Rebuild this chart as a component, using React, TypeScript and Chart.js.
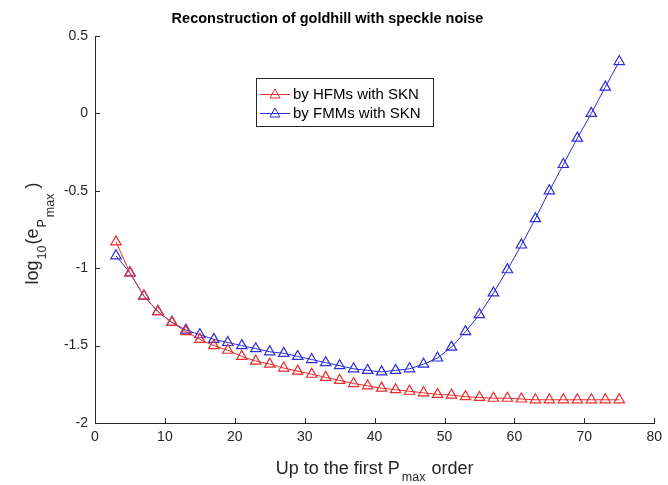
import React, { useEffect, useRef } from "react";
import { Chart, registerables } from "chart.js";

Chart.register(...registerables);

const TITLE = "Reconstruction of goldhill with speckle noise";
const orders = [3, 5, 7, 9, 11, 13, 15, 17, 19, 21, 23, 25, 27, 29, 31, 33, 35, 37, 39, 41, 43, 45, 47, 49, 51, 53, 55, 57, 59, 61, 63, 65, 67, 69, 71, 73, 75];
const hfmSKN = [-0.83, -1.03, -1.18, -1.28, -1.35, -1.41, -1.46, -1.5, -1.53, -1.57, -1.6, -1.62, -1.645, -1.665, -1.685, -1.705, -1.725, -1.745, -1.76, -1.775, -1.785, -1.795, -1.805, -1.815, -1.82, -1.83, -1.835, -1.84, -1.84, -1.845, -1.85, -1.85, -1.85, -1.85, -1.85, -1.85, -1.85];
const fmmSKN = [-0.92, -1.03, -1.18, -1.28, -1.35, -1.4, -1.43, -1.46, -1.48, -1.5, -1.52, -1.54, -1.55, -1.57, -1.59, -1.61, -1.63, -1.65, -1.66, -1.67, -1.66, -1.65, -1.62, -1.58, -1.51, -1.41, -1.3, -1.16, -1.01, -0.85, -0.68, -0.5, -0.33, -0.16, 0.0, 0.17, 0.335];
const seriesNames = ["by HFMs with SKN", "by FMMs with SKN"];
const seriesColors = ["rgb(232,45,45)", "rgb(45,45,215)"];
const xTickValues = [0, 10, 20, 30, 40, 50, 60, 70, 80];
const yTickValues = [-2, -1.5, -1, -0.5, 0, 0.5];

const FONT = '"Liberation Sans", Arial, Helvetica, sans-serif';
const AXIS_COLOR = "#262626";

type Part = { t: string; f: string; dy: number; gap?: number };

function drawParts(ctx: CanvasRenderingContext2D, parts: Part[], centerX: number, baseY: number) {
  let total = 0;
  for (const p of parts) { ctx.font = p.f; total += ctx.measureText(p.t).width + (p.gap || 0); }
  let cx = centerX - total / 2;
  ctx.textAlign = "left";
  for (const p of parts) {
    ctx.font = p.f;
    cx += p.gap || 0;
    ctx.fillText(p.t, cx, baseY + p.dy);
    cx += ctx.measureText(p.t).width;
  }
}

const decorPlugin = {
  id: "decor",
  afterDraw(chart: any) {
    const ctx = chart.ctx as CanvasRenderingContext2D;
    const area = chart.chartArea;
    const xs = chart.scales.x;
    const ys = chart.scales.y;
    ctx.save();
    // inward ticks
    ctx.strokeStyle = AXIS_COLOR;
    ctx.lineWidth = 1;
    ctx.beginPath();
    for (const v of xTickValues) {
      const px = Math.round(xs.getPixelForValue(v)) + 0.5;
      ctx.moveTo(px, area.bottom);
      ctx.lineTo(px, area.bottom - 5);
    }
    for (const v of yTickValues) {
      const py = Math.round(ys.getPixelForValue(v)) + 0.5;
      ctx.moveTo(area.left, py);
      ctx.lineTo(area.left + 5, py);
    }
    ctx.stroke();

    ctx.fillStyle = AXIS_COLOR;
    ctx.textBaseline = "alphabetic";
    const big = `18px ${FONT}`;
    const small = `12.5px ${FONT}`;

    // x axis title
    drawParts(ctx, [
      { t: "Up to the first P", f: big, dy: 0 },
      { t: "max", f: small, dy: 7, gap: 2 },
      { t: " order", f: big, dy: 0, gap: 1 },
    ], (area.left + area.right) / 2, 474);

    // y axis title (rotated)
    ctx.save();
    ctx.translate(38, (area.top + area.bottom) / 2 + 4);
    ctx.rotate(-Math.PI / 2);
    drawParts(ctx, [
      { t: "log", f: big, dy: 0 },
      { t: "10", f: small, dy: 8, gap: 1 },
      { t: "(e", f: big, dy: 0, gap: 1 },
      { t: "P", f: small, dy: 8, gap: 1 },
      { t: "max", f: small, dy: 16, gap: 2 },
      { t: ")", f: big, dy: 0, gap: 5 },
    ], 0, 0);
    ctx.restore();
    ctx.restore();

    // legend
    ctx.save();
    const lx = 256, ly = 78, lw = 177, lh = 48;
    ctx.fillStyle = "#ffffff";
    ctx.fillRect(lx, ly, lw, lh);
    ctx.strokeStyle = AXIS_COLOR;
    ctx.lineWidth = 1;
    ctx.strokeRect(lx + 0.5, ly + 0.5, lw, lh);
    ctx.font = `15px ${FONT}`;
    ctx.textBaseline = "middle";
    ctx.textAlign = "left";
    seriesNames.forEach((name, i) => {
      const y = ly + 16 + i * 19;
      ctx.strokeStyle = seriesColors[i];
      ctx.beginPath();
      ctx.moveTo(lx + 4, y + 0.5);
      ctx.lineTo(lx + 34, y + 0.5);
      ctx.stroke();
      ctx.beginPath();
      ctx.moveTo(lx + 19, y - 5);
      ctx.lineTo(lx + 24, y + 4);
      ctx.lineTo(lx + 14, y + 4);
      ctx.closePath();
      ctx.stroke();
      ctx.fillStyle = "#000000";
      ctx.fillText(name, lx + 37, y + 1);
    });
    ctx.restore();
  },
};

export default function App() {
  const canvasRef = useRef<HTMLCanvasElement | null>(null);

  useEffect(() => {
    document.body.style.margin = "0";
    const canvas = canvasRef.current!;
    const datasets = [hfmSKN, fmmSKN].map((vals, i) => ({
      label: seriesNames[i],
      data: orders.map((x, j) => ({ x, y: vals[j] })),
      borderColor: seriesColors[i],
      backgroundColor: "rgba(0,0,0,0)",
      borderWidth: 1,
      pointStyle: "triangle",
      pointRadius: 6,
      pointBorderWidth: 1.2,
      pointBorderColor: seriesColors[i],
      pointBackgroundColor: "rgba(0,0,0,0)",
      tension: 0,
      fill: false,
    }));
    const chart = new Chart(canvas, {
      type: "line",
      data: { datasets },
      plugins: [decorPlugin],
      options: {
        animation: false,
        responsive: false,
        layout: { padding: { top: 0, left: 0, right: 13, bottom: 0 } },
        plugins: {
          legend: { display: false },
          tooltip: { enabled: false },
          title: {
            display: true,
            text: TITLE,
            color: "#000000",
            font: { family: FONT, size: 14.5, weight: "bold", lineHeight: 1.2 },
            padding: { top: 10, bottom: 8.6 },
          },
        },
        scales: {
          x: {
            type: "linear",
            min: 0,
            max: 80,
            afterBuildTicks: (scale: any) => {
              scale.ticks = xTickValues.map((v) => ({ value: v }));
            },
            afterFit: (scale: any) => { scale.height = 62; },
            ticks: {
              color: AXIS_COLOR,
              font: { family: FONT, size: 14 },
              padding: 6,
              callback: (v: any) => String(v),
            },
            grid: { display: true, drawOnChartArea: false, drawTicks: false },
            border: { display: true, color: AXIS_COLOR, width: 1 },
          },
          y: {
            type: "linear",
            min: -2,
            max: 0.5,
            afterBuildTicks: (scale: any) => {
              scale.ticks = yTickValues.map((v) => ({ value: v }));
            },
            afterFit: (scale: any) => { scale.width = 95; },
            ticks: {
              color: AXIS_COLOR,
              font: { family: FONT, size: 14 },
              padding: 7,
              callback: (v: any) => String(v),
            },
            grid: { display: true, drawOnChartArea: false, drawTicks: false },
            border: { display: true, color: AXIS_COLOR, width: 1 },
          },
        },
      } as any,
    });
    return () => chart.destroy();
  }, []);

  return (
    <div style={{ width: 668, height: 485, background: "#fff" }}>
      <canvas ref={canvasRef} width={668} height={485} style={{ display: "block" }} />
    </div>
  );
}
